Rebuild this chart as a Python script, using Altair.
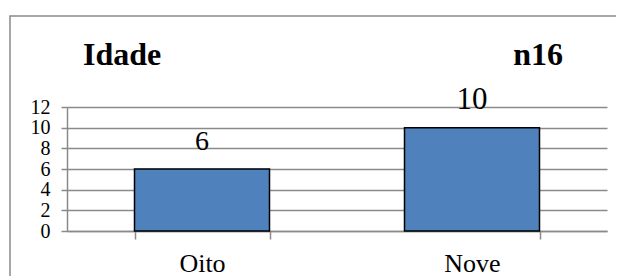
import altair as alt
import pandas as pd

categories = ["Oito", "Nove"]
counts = [6, 10]
y_ticks = [0, 2, 4, 6, 8, 10, 12]
title_left = "Idade"
title_right = "n16"

df = pd.DataFrame({"idade": categories, "n": counts})

FONT = "Liberation Serif"
GRID = "#8a8a8a"

x_enc = alt.X(
    "idade:N",
    sort=categories,
    scale=alt.Scale(paddingInner=0.5, paddingOuter=0.25),
    axis=alt.Axis(
        title=None,
        labelAngle=0,
        labelFont=FONT,
        labelFontSize=26,
        labelColor="black",
        labelPadding=11,
        tickBand="extent",
        tickSize=8,
        tickColor=GRID,
        tickWidth=1.5,
        domainColor=GRID,
        domainWidth=1.5,
        grid=False,
    ),
)
y_enc = alt.Y(
    "n:Q",
    scale=alt.Scale(domain=[0, 12], nice=False),
    axis=alt.Axis(
        title=None,
        values=y_ticks,
        tickCount=7,
        labelFont=FONT,
        labelFontSize=20,
        labelColor="black",
        labelPadding=11,
        labelOverlap=False,
        labelFlush=False,
        tickSize=6,
        tickColor=GRID,
        tickWidth=1.5,
        domainColor=GRID,
        domainWidth=1.5,
        gridColor=GRID,
        gridWidth=1.5,
    ),
)

base = alt.Chart(df).encode(x=x_enc, y=y_enc)

bars = base.mark_bar(color="#4f81bd", stroke="black", strokeWidth=1.5)

labels = base.mark_text(
    font=FONT, baseline="alphabetic", dy=-19, color="black"
).encode(
    text="n:Q",
    size=alt.condition(alt.datum.n >= 10, alt.value(31), alt.value(28)),
)

t_left = alt.Chart(alt.Data(values=[{"t": title_left}])).mark_text(
    font=FONT, fontSize=32, fontWeight="bold", align="left", baseline="alphabetic", color="black"
).encode(x=alt.value(16), y=alt.value(-42), text="t:N")
t_right = alt.Chart(alt.Data(values=[{"t": title_right}])).mark_text(
    font=FONT, fontSize=32, fontWeight="bold", align="right", baseline="alphabetic", color="black"
).encode(x=alt.value(496), y=alt.value(-42), text="t:N")

border = alt.Chart(alt.Data(values=[{"b": 1}])).mark_rect(
    filled=False, stroke=GRID, strokeWidth=1.5
).encode(x=alt.value(-57), x2=alt.value(600), y=alt.value(-91), y2=alt.value(220))

chart = alt.layer(bars, labels, t_left, t_right, border).properties(
    width=540,
    height=124,
    autosize=alt.AutoSizeParams(type="none"),
    padding={"left": 59, "top": 99, "right": 9, "bottom": 50},
).configure_view(stroke=None)

chart.save("out.html", embed_options={"renderer": "svg", "actions": False})
